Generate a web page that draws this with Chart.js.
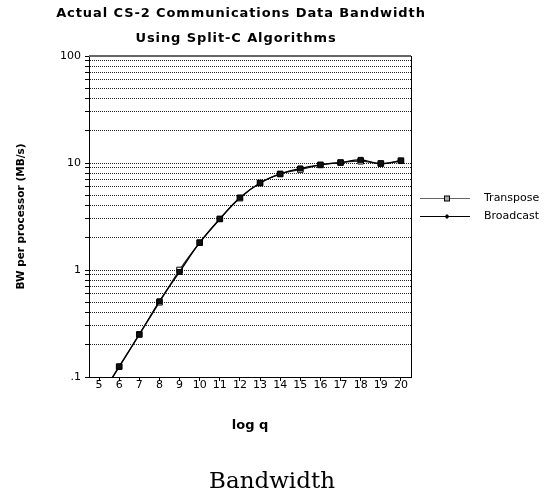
<!DOCTYPE html>
<html>
<head>
<meta charset="utf-8">
<script src="https://cdn.jsdelivr.net/npm/chart.js@4"></script>
<style>
  html, body { margin: 0; padding: 0; background: #fff; }
  #wrap { width: 548px; height: 499px; }
</style>
</head>
<body>
<div id="wrap"><canvas id="bwChart" width="548" height="499"></canvas></div>
<script>
// values (MB/s per processor), log q from 5 to 20
var logQ = ['5','6','7','8','9','10','11','12','13','14','15','16','17','18','19','20'];
var transpose = [0.0625, 0.125, 0.25, 0.5, 1.0, 1.8, 3.0, 4.7, 6.5, 7.9, 8.7, 9.6, 10.1, 10.4, 9.9, 10.5];
var broadcast = [0.0625, 0.125, 0.25, 0.51, 0.96, 1.8, 3.0, 4.75, 6.5, 7.9, 8.9, 9.6, 10.1, 10.7, 9.85, 10.5];
var yDecades = [0.1, 1, 10];
var yMantissas = [1, 2, 3, 4, 5, 6, 7, 8, 9];
var yLabels = { 0.1: '.1', 1: '1', 10: '10', 100: '100' };
var seriesNames = ['Transpose', 'Broadcast'];
var titleLines = ['Actual CS-2 Communications Data Bandwidth', 'Using Split-C Algorithms'];
var caption = 'Bandwidth';

var sansFont = "'DejaVu Sans', sans-serif";

// frame (top + right edges), title, legend on the right and the caption
var extras = {
  id: 'extras',
  afterDatasetsDraw: function(chart) {
    var ctx = chart.ctx, a = chart.chartArea;
    ctx.save();
    ctx.strokeStyle = '#666';
    ctx.lineWidth = 2;
    ctx.beginPath();
    ctx.moveTo(a.left, a.top);
    ctx.lineTo(a.right, a.top);
    ctx.stroke();
    ctx.strokeStyle = '#000';
    ctx.lineWidth = 1;
    ctx.beginPath();
    ctx.moveTo(a.right + 0.5, a.top);
    ctx.lineTo(a.right + 0.5, a.bottom);
    ctx.stroke();
    ctx.restore();
  },
  afterDraw: function(chart) {
    var ctx = chart.ctx, a = chart.chartArea;
    ctx.save();

    // two line bold title
    ctx.fillStyle = '#000';
    ctx.font = 'bold 13px ' + sansFont;
    ctx.letterSpacing = '0.9px';
    ctx.textAlign = 'center';
    ctx.textBaseline = 'alphabetic';
    ctx.fillText(titleLines[0], 241, 17);
    ctx.fillText(titleLines[1], 236, 42);
    ctx.letterSpacing = '0px';

    // legend
    var x0 = a.right + 9, x1 = a.right + 59, xm = a.right + 36;
    var rows = [a.top + 142, a.top + 160];
    chart.data.datasets.forEach(function(ds, i) {
      var y = rows[i] + 0.5;
      ctx.strokeStyle = i === 0 ? '#666' : '#000';
      ctx.lineWidth = 1;
      ctx.beginPath();
      ctx.moveTo(x0, y);
      ctx.lineTo(x1, y);
      ctx.stroke();
      if (i === 0) {
        ctx.fillStyle = '#aaa';
        ctx.fillRect(xm - 2.5, y - 2.5, 5, 5);
        ctx.strokeStyle = '#000';
        ctx.strokeRect(xm - 2.5, y - 2.5, 5, 5);
      } else {
        ctx.fillStyle = '#000';
        ctx.beginPath();
        ctx.moveTo(xm, y - 2.5);
        ctx.lineTo(xm + 2.5, y);
        ctx.lineTo(xm, y + 2.5);
        ctx.lineTo(xm - 2.5, y);
        ctx.closePath();
        ctx.fill();
      }
      ctx.fillStyle = '#000';
      ctx.font = '11px ' + sansFont;
      ctx.textBaseline = 'middle';
      ctx.textAlign = 'left';
      ctx.fillText(ds.label, a.right + 73, y);
    });

    // caption under the figure
    ctx.font = "23px 'DejaVu Serif', 'Liberation Serif', serif";
    ctx.textAlign = 'center';
    ctx.textBaseline = 'alphabetic';
    ctx.fillText(caption, 272, 488);
    ctx.restore();
  }
};

var ctx = document.getElementById('bwChart').getContext('2d');
var bwChart = new Chart(ctx, {
  type: 'line',
  data: {
    labels: logQ,
    datasets: [{
      label: seriesNames[0],
      data: transpose,
      borderColor: '#222',
      borderWidth: 1.3,
      pointStyle: 'rect',
      pointRadius: 4.0,
      pointBackgroundColor: '#fff',
      pointBorderColor: '#000',
      pointBorderWidth: 1,
      tension: 0.35,
      order: 1
    }, {
      label: seriesNames[1],
      data: broadcast,
      borderColor: '#000',
      borderWidth: 1.3,
      pointStyle: 'rect',
      pointRadius: 3.5,
      pointBackgroundColor: '#111',
      pointBorderColor: '#000',
      pointBorderWidth: 1,
      tension: 0.35,
      order: 0
    }]
  },
  options: {
    responsive: false,
    animation: false,
    layout: { padding: { left: 8, right: 137, top: 56, bottom: 62 } },
    plugins: {
      legend: { display: false },
      tooltip: { enabled: false },
      title: { display: false }
    },
    scales: {
      x: {
        type: 'category',
        offset: true,
        grid: { display: true, drawOnChartArea: false, drawTicks: true, tickLength: 4, color: '#000' },
        border: { display: true, color: '#000', width: 1 },
        ticks: { color: '#000', font: { family: sansFont, size: 11, lineHeight: 1 }, padding: -1, maxRotation: 0, autoSkip: false },
        title: {
          display: true,
          text: 'log q',
          color: '#000',
          font: { family: sansFont, size: 13, weight: 'bold' },
          padding: { top: 0, bottom: 4 }
        },
        afterFit: function(s) { s.height = 60; }
      },
      y: {
        type: 'logarithmic',
        min: 0.1,
        max: 100,
        grid: {
          color: '#222',
          lineWidth: 1,
          borderDash: [1, 1],
          tickLength: 4,
          tickColor: '#000',
          tickBorderDash: []
        },
        border: { display: true, color: '#000', width: 1, dash: [1, 1] },
        ticks: {
          color: '#000',
          font: { family: sansFont, size: 11 },
          padding: 4,
          autoSkip: false,
          callback: function(v) {
            return yLabels[v] !== undefined ? yLabels[v] : '';
          }
        },
        afterBuildTicks: function(s) {
          var t = [];
          yDecades.forEach(function(d) {
            yMantissas.forEach(function(m) { t.push({ value: +(d * m).toPrecision(3) }); });
          });
          t.push({ value: 100 });
          s.ticks = t;
        },
        title: {
          display: true,
          text: 'BW per processor (MB/s)',
          color: '#000',
          font: { family: sansFont, size: 10.5, weight: 'bold' },
          padding: { top: 7, bottom: 0 }
        },
        afterFit: function(s) { s.width = 81; }
      }
    }
  },
  plugins: [extras]
});
</script>
</body>
</html>
